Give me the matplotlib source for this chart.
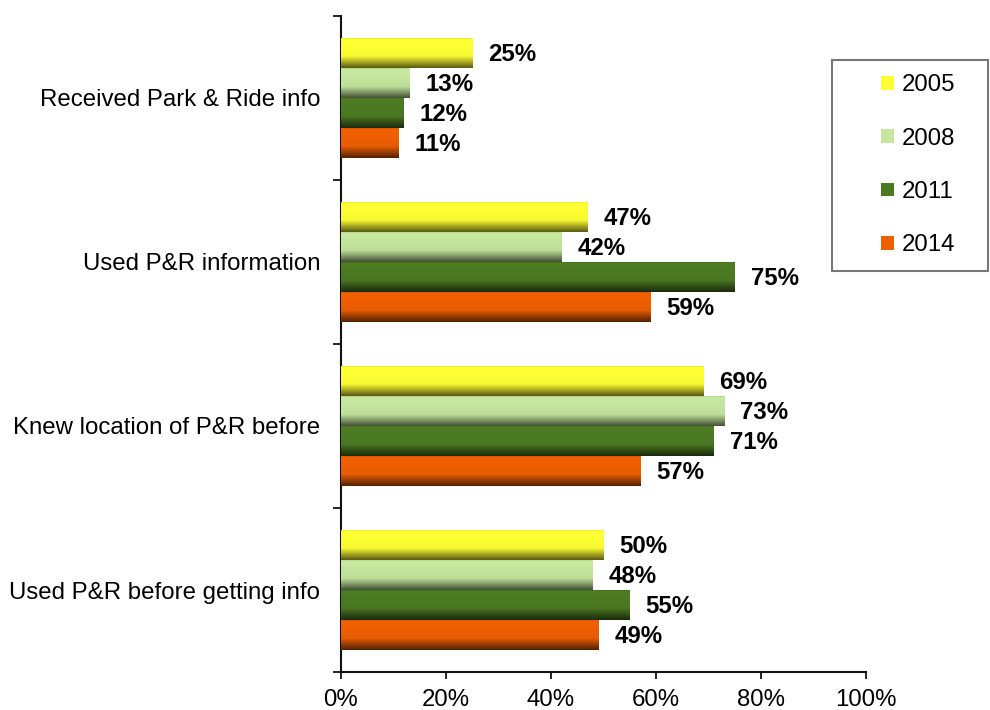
import numpy as np
import matplotlib.pyplot as plt
from matplotlib.patches import Rectangle
from matplotlib.container import BarContainer
from matplotlib.legend_handler import HandlerPatch, update_from_first_child

plt.rcParams['font.family'] = ['Liberation Sans', 'DejaVu Sans']

categories = ["Received Park & Ride info", "Used P&R information",
              "Knew location of P&R before", "Used P&R before getting info"]
years = ["2005", "2008", "2011", "2014"]
vals_2005 = [25, 47, 69, 50]
vals_2008 = [13, 42, 73, 48]
vals_2011 = [12, 75, 71, 55]
vals_2014 = [11, 59, 57, 49]
series = [vals_2005, vals_2008, vals_2011, vals_2014]
xticks = [0, 20, 40, 60, 80, 100]

colors = ["#FFFF33", "#C4E69E", "#4C7A22", "#EE5F00"]
FS = 17.3

fig = plt.figure(figsize=(9.9, 7.1), dpi=100)
ax = fig.add_axes([341 / 990, 38 / 710, 525 / 990, 656 / 710])

n_cat = len(categories)
ypos = np.arange(n_cat)[::-1]  # first category at top
h = 0.183


def grad_image(col):
    rgb = np.array(plt.matplotlib.colors.to_rgb(col))
    t = np.linspace(0, 1, 80)
    f = np.ones_like(t)
    f[t < 0.04] = 0.88
    mid = (t >= 0.04) & (t < 0.62)
    f[mid] = 1.02 - 0.05 * (t[mid] - 0.04) / 0.58
    low = t >= 0.62
    f[low] = 0.97 - 0.62 * (t[low] - 0.62) / 0.38
    img = np.clip(rgb[None, :] * f[:, None], 0, 1)
    return img[:, None, :]


for i, (yr, vals, col) in enumerate(zip(years, series, colors)):
    yy = ypos + (1.5 - i) * h
    bars = ax.barh(yy, vals, height=h, color=col, label=yr, zorder=2)
    img = grad_image(col)
    for b, v in zip(bars, vals):
        im = ax.imshow(img, extent=[b.get_x(), b.get_x() + b.get_width(),
                                    b.get_y(), b.get_y() + b.get_height()],
                       aspect='auto', origin='upper', zorder=3,
                       interpolation='bilinear')
        im.set_clip_path(b)
        ax.annotate(f"{v}%", xy=(v, b.get_y() + h / 2), xytext=(11.5, -1),
                    textcoords='offset points', ha='left', va='center',
                    fontsize=FS, fontweight='bold', zorder=4)

ax.set_xlim(0, 100)
ax.set_ylim(-0.5, n_cat - 0.5)
ax.set_aspect('auto')

ax.set_xticks(xticks)
ax.set_xticklabels([f"{t}%" for t in xticks], fontsize=FS)
ax.tick_params(axis='x', direction='out', length=5, width=1.2, pad=7)

ax.set_yticks(np.arange(n_cat + 1) - 0.5)
ax.set_yticklabels([])
ax.set_yticks(ypos, minor=True)
ax.set_yticklabels(categories, minor=True, fontsize=FS)
ax.tick_params(axis='y', which='major', direction='out', length=6, width=1.2)
ax.tick_params(axis='y', which='minor', length=0, pad=15)

for s in ['top', 'right']:
    ax.spines[s].set_visible(False)
for s in ['left', 'bottom']:
    ax.spines[s].set_linewidth(1.5)
    ax.spines[s].set_color('#111111')


def square_patch(legend, orig_handle, xdescent, ydescent, width, height, fontsize):
    size = fontsize * 0.58
    return Rectangle((-xdescent + width - size, -ydescent + (height - size) / 2),
                     size, size)


handles, labels = ax.get_legend_handles_labels()
leg = fig.legend(handles, labels, loc='upper left',
                 bbox_to_anchor=(832 / 990, 650 / 710, 156 / 990, 0.0),
                 bbox_transform=fig.transFigure, mode='expand',
                 borderaxespad=0, borderpad=0.6, fontsize=FS,
                 handlelength=2.0, handleheight=0.7, handletextpad=0.3,
                 labelspacing=1.3, fancybox=False, framealpha=1,
                 handler_map={BarContainer: HandlerPatch(
                     patch_func=square_patch, update_func=update_from_first_child)})
leg.get_frame().set_edgecolor('#777777')
leg.get_frame().set_linewidth(1.5)

fig.savefig("out.png", dpi=100)
